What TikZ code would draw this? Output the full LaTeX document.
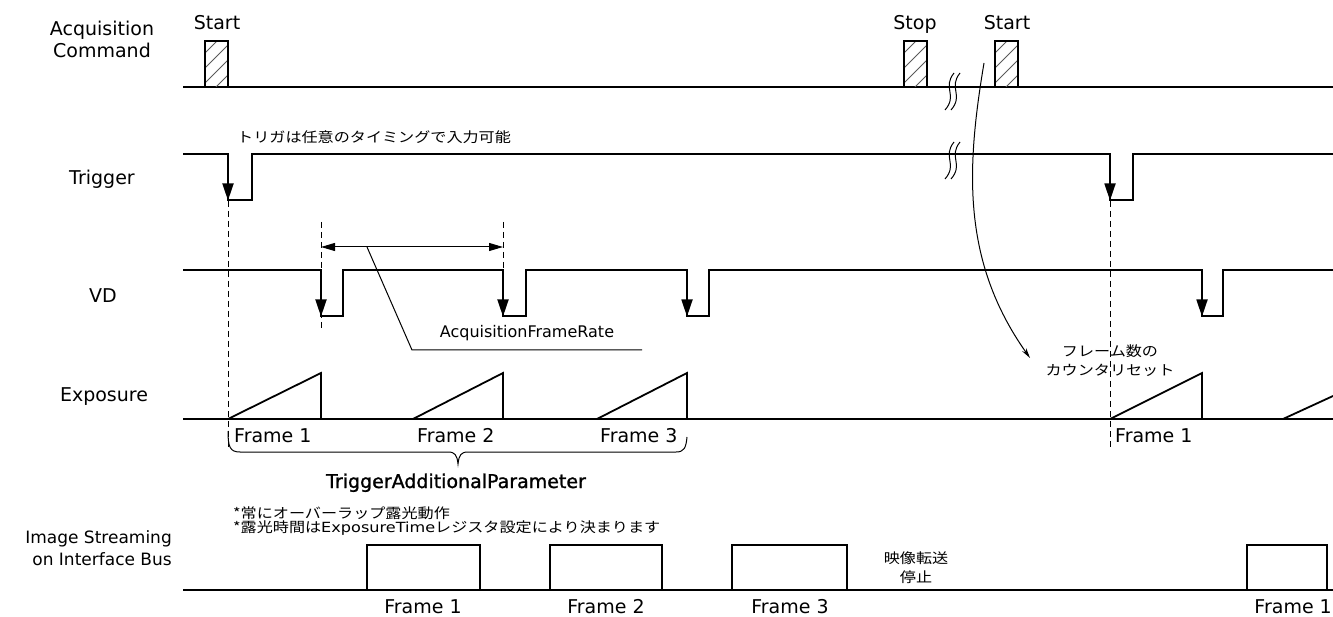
\documentclass[tikz,border=0pt]{standalone}
\usepackage{fontspec}
\setmainfont{DejaVu Sans}
\newfontfamily\jp{Noto Sans CJK JP}
\newfontfamily\boldish[FakeBold=1.2]{DejaVu Sans}
\usetikzlibrary{arrows.meta}
\begin{document}
\begin{tikzpicture}[x=1pt,y=-1pt,
  sig/.style={line width=1.8pt, line join=miter},
  thinline/.style={line width=1pt},
  dashline/.style={line width=1pt, dash pattern=on 6pt off 4pt},
  hatch/.style={line width=0.8pt, black!65},
  lab/.style={inner sep=0pt, font=\fontsize{19}{22}\selectfont},
  jplab/.style={inner sep=0pt, font=\jp\fontsize{14}{16}\selectfont},
  fall/.style={line width=1.8pt, -{Triangle[length=17pt,width=11pt]}},
  dimarrow/.style={thinline, {Triangle[length=14pt,width=8pt]}-{Triangle[length=14pt,width=8pt]}}
]
\useasboundingbox (0,0) rectangle (1333,617);

% ---------- left labels ----------
\node[lab, align=center, anchor=base] (lacq) at (102,58) {Acquisition\\Command};
\node[lab, anchor=base] (ltrig) at (102,185) {Trigger};
\node[lab, anchor=base] (lvd) at (103,303) {VD};
\node[lab, anchor=base] (lexp) at (104,402) {Exposure};
\node[inner sep=0pt, font=\fontsize{17}{22}\selectfont, align=right, anchor=base east] (lstream) at (172,565) {Image Streaming\\on Interface Bus};

% ---------- Acquisition command ----------
\node[lab, anchor=base] (tstart1) at (217,30) {Start};
\node[lab, anchor=base] (tstop) at (915,30) {Stop};
\node[lab, anchor=base] (tstart2) at (1007,30) {Start};
\draw[sig] (183,87) -- (1333,87);
\foreach \xa/\xb in {205/228, 904/927, 995/1018}{
  \begin{scope}
    \clip (\xa,41) rectangle (\xb,87);
    \foreach \k in {-1,...,3}
      \draw[hatch] ({\xa-10},{93-\k*15}) -- ++(50,-50);
  \end{scope}
  \draw[sig] (\xa,87) -- (\xa,41) -- (\xb,41) -- (\xb,87);
}
% break marks
\foreach \yo in {0,69}{
  \foreach \xo in {0,6}{
    \draw[thinline] ({954+\xo},{73+\yo}) .. controls ({942+\xo},{88+\yo}) and ({958+\xo},{95+\yo}) .. ({945+\xo},{110+\yo});
  }
}

% ---------- Trigger ----------
\node[jplab, anchor=west] (trignote) at (237,137) {\scalebox{1.15}[1]{トリガは任意のタイミングで入力可能}};
\draw[sig] (183,154) -- (228,154) -- (228,200) -- (252,200) -- (252,154) -- (1110,154) -- (1110,200) -- (1133,200) -- (1133,154) -- (1333,154);
\draw[fall] (228,175) -- (228,200.5);
\draw[fall] (1110,175) -- (1110,200.5);
\draw[dashline] (228,201) -- (228,447);
\draw[dashline] (1110,201) -- (1110,447);

% ---------- VD ----------
\draw[sig] (183,270) -- (321,270) -- (321,316) -- (343,316) -- (343,270) -- (503,270) -- (503,316) -- (526,316) -- (526,270) -- (687,270) -- (687,316) -- (709,316) -- (709,270) -- (1202,270) -- (1202,316) -- (1223,316) -- (1223,270) -- (1333,270);
\foreach \xf in {321,503,687,1202}
  \draw[fall] (\xf,292) -- (\xf,316.5);
\draw[dashline] (321,222) -- (321,328);
\draw[dashline] (503,222) -- (503,270);
\coordinate (afr1) at (321,247);
\coordinate (afr2) at (503,247);
\draw[dimarrow] (afr1) -- (afr2);
\node[inner sep=0pt, font=\fontsize{16}{18}\selectfont, anchor=base] (afr) at (527,338) {AcquisitionFrameRate};
\coordinate (afrleg) at (367,247);
\draw[thinline] (afrleg) -- (412,350) -- (642,350);

% ---------- Exposure ----------
\draw[sig] (183,419) -- (1333,419);
\draw[sig] (228,419) -- (321,373) -- (321,419);
\draw[sig] (413,419) -- (503,373) -- (503,419);
\draw[sig] (597,419) -- (687,373) -- (687,419);
\draw[sig] (1110,419) -- (1202,373) -- (1202,419);
\draw[sig] (1283,419) -- (1333,396);
\node[lab, anchor=base west] (ef1) at (234,442) {Frame 1};
\node[lab, anchor=base west] (ef2) at (417,442) {Frame 2};
\node[lab, anchor=base west] (ef3) at (600,442) {Frame 3};
\node[lab, anchor=base west] (ef1b) at (1115,442) {Frame 1};
% brace
\draw[thinline] (228,431) .. controls (228,447) and (230,452) .. (240,452) -- (448,452) .. controls (455,452) and (457,455) .. (458,464) .. controls (459,455) and (461,452) .. (468,452) -- (676,452) .. controls (684,452) and (686,448) .. (687,437);
\node[inner sep=0pt, font=\boldish\fontsize{19}{22}\selectfont, anchor=base] (tap) at (456,488) {TriggerAdditionalParameter};

% counter reset
\node[jplab] (cr1) at (1110,351) {\scalebox{1.15}[1]{フレーム数の}};
\node[jplab] (cr2) at (1110,370) {\scalebox{1.15}[1]{カウンタリセット}};
\coordinate (crs) at (984,63);
\coordinate (cre) at (1030,358);
\draw[thinline, -{Stealth[length=10pt,width=5pt]}] (crs) .. controls (966,170) and (962,262) .. (cre);

% ---------- notes ----------
\node[jplab, anchor=west] (note1) at (233,513) {\scalebox{1.15}[1]{*常にオーバーラップ露光動作}};
\node[jplab, anchor=west] (note2) at (233,528) {\scalebox{1.15}[1]{*露光時間は{\rmfamily ExposureTime}レジスタ設定により決まります}};

% ---------- Image streaming ----------
\draw[sig] (183,590) -- (1333,590);
\foreach \xa/\xb in {367/480, 550/662, 732/847, 1247/1327}
  \draw[sig] (\xa,590) -- (\xa,545) -- (\xb,545) -- (\xb,590);
\node[jplab] (stop1) at (916,558) {\scalebox{1.15}[1]{映像転送}};
\node[jplab] (stop2) at (916,577) {\scalebox{1.15}[1]{停止}};
\node[lab, anchor=base] (sf1) at (423,613) {Frame 1};
\node[lab, anchor=base] (sf2) at (606,613) {Frame 2};
\node[lab, anchor=base] (sf3) at (790,613) {Frame 3};
\node[lab, anchor=base east] (sf1b) at (1332,613) {Frame 1};
\end{tikzpicture}
\end{document}
